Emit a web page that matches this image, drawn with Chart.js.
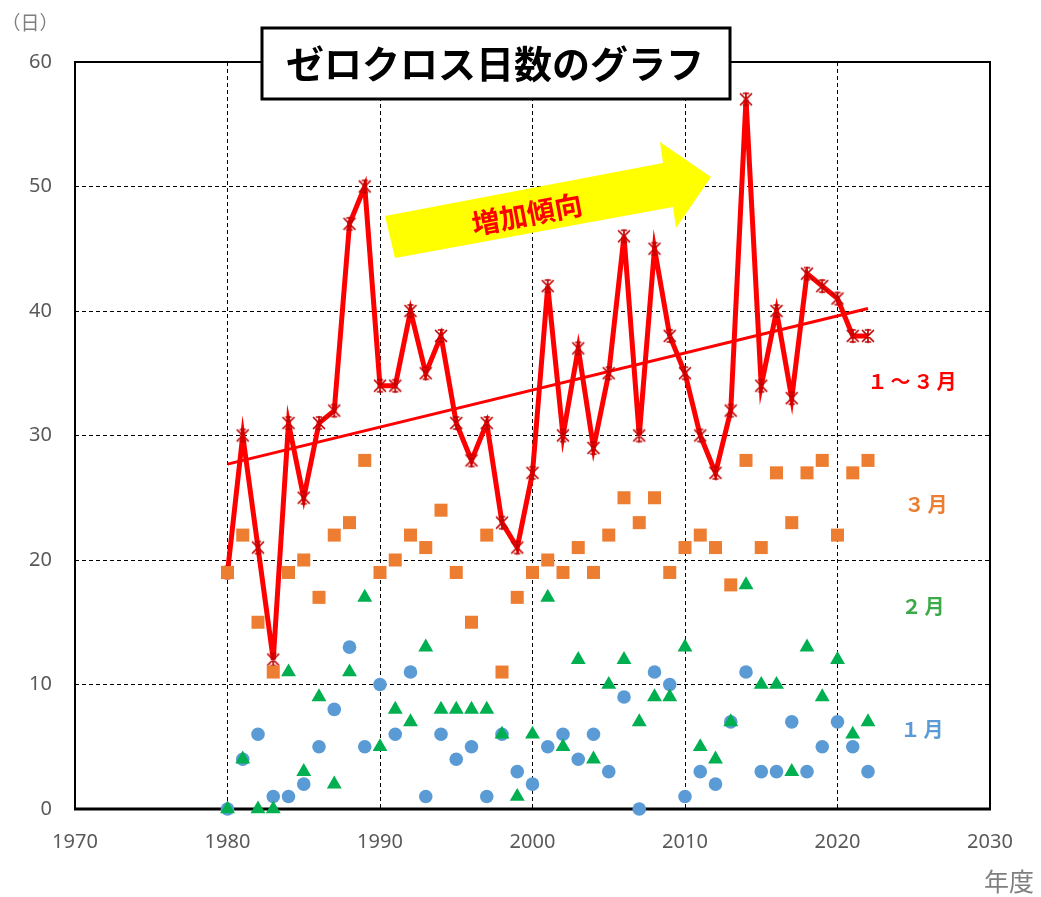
<!DOCTYPE html>
<html><head><meta charset="utf-8">
<script src="https://cdn.jsdelivr.net/npm/chart.js@4"></script>
<style>html,body{margin:0;padding:0;background:#fff}canvas{display:block}</style>
</head><body>
<canvas id="c" width="1041" height="897"></canvas>
<script>
const years = [1980,1981,1982,1983,1984,1985,1986,1987,1988,1989,1990,1991,1992,1993,1994,1995,1996,1997,1998,1999,2000,2001,2002,2003,2004,2005,2006,2007,2008,2009,2010,2011,2012,2013,2014,2015,2016,2017,2018,2019,2020,2021,2022];
const totalDays = [19,30,21,12,31,25,31,32,47,50,34,34,40,35,38,31,28,31,23,21,27,42,30,37,29,35,46,30,45,38,35,30,27,32,57,34,40,33,43,42,41,38,38];
const marchDays = [19,22,15,11,19,20,17,22,23,28,19,20,22,21,24,19,15,22,11,17,19,20,19,21,19,22,25,23,25,19,21,22,21,18,28,21,27,23,27,28,22,27,28];
const febDays   = [0,4,0,0,11,3,9,2,11,17,5,8,7,13,8,8,8,8,6,1,6,17,5,12,4,10,12,7,9,9,13,5,4,7,18,10,10,3,13,9,12,6,7];
const janDays   = [0,4,6,1,1,2,5,8,13,5,10,6,11,1,6,4,5,1,6,3,2,5,6,4,6,3,9,0,11,10,1,3,2,7,11,3,3,7,3,5,7,5,3];
const trendYears = [1980, 2022];
const trendValues = [27.7, 40.2];
const yearTicks = [1970,1980,1990,2000,2010,2020,2030];
const dayTicks = [0,10,20,30,40,50,60];
const seriesLabels = ['１～３月','３月','２月','１月'];
const chartTitle = 'ゼロクロス日数のグラフ';
const arrowText = '増加傾向';
const yUnit = '（日）';
const xUnit = '年度';

const JP = '"Noto Sans CJK JP", "Noto Sans", sans-serif';

function makeStar(){
  const c = document.createElement('canvas'); c.width = 16; c.height = 16;
  const g = c.getContext('2d');
  g.strokeStyle = '#C00000'; g.lineWidth = 1.7; g.lineCap = 'round';
  g.beginPath();
  g.moveTo(2.5,2.5); g.lineTo(13.5,13.5);
  g.moveTo(13.5,2.5); g.lineTo(2.5,13.5);
  g.moveTo(8,1.5); g.lineTo(8,14.5);
  g.moveTo(5.5,2); g.lineTo(10.5,2);
  g.moveTo(5.5,14); g.lineTo(10.5,14);
  g.stroke();
  return c;
}
const pts = arr => years.map((y,i)=>({x:y, y:arr[i]}));

const deco = {
  id: 'deco',
  beforeDatasetsDraw(chart){
    const {ctx, chartArea:a} = chart;
    ctx.save();
    ctx.setLineDash([]);
    ctx.strokeStyle = '#000';
    ctx.lineWidth = 2;
    ctx.strokeRect(a.left, a.top, a.right - a.left, a.bottom - a.top);
    ctx.lineWidth = 3;
    ctx.beginPath(); ctx.moveTo(a.left-1, a.bottom); ctx.lineTo(a.right+1, a.bottom); ctx.stroke();
    ctx.restore();
  },
  afterDraw(chart){
    const {ctx} = chart;
    ctx.save();
    ctx.setLineDash([]);
    // title box
    ctx.fillStyle = '#fff';
    ctx.fillRect(262, 28, 468, 71);
    ctx.strokeStyle = '#000'; ctx.lineWidth = 3;
    ctx.strokeRect(262, 28, 468, 71);
    ctx.fillStyle = '#000';
    ctx.font = 'bold 38px ' + JP;
    ctx.textAlign = 'center'; ctx.textBaseline = 'middle';
    ctx.fillText(chartTitle, 495, 64);
    // arrow
    ctx.fillStyle = '#FFFF00';
    ctx.beginPath();
    ctx.moveTo(385,216); ctx.lineTo(663,163); ctx.lineTo(660,142); ctx.lineTo(711,177);
    ctx.lineTo(676,228); ctx.lineTo(673,207); ctx.lineTo(395,258);
    ctx.closePath(); ctx.fill();
    ctx.save();
    ctx.translate(527, 214); ctx.rotate(-0.19);
    ctx.fillStyle = '#FF0000';
    ctx.font = 'bold 28px ' + JP;
    ctx.fillText(arrowText, 0, 0);
    ctx.restore();
    // series labels
    const lab = [[seriesLabels[0],'#FF0000',912,381],[seriesLabels[1],'#ED7D31',926,504],[seriesLabels[2],'#3DAA4A',923,606],[seriesLabels[3],'#5B9BD5',922,729]];
    ctx.font = 'bold 20px ' + JP;
    if ('letterSpacing' in ctx) ctx.letterSpacing = '3px';
    for (const [t,c,x,y] of lab){ ctx.fillStyle = c; ctx.fillText(t, x+1.5, y); }
    if ('letterSpacing' in ctx) ctx.letterSpacing = '0px';
    // units
    ctx.fillStyle = '#7F7F7F';
    ctx.font = '19px ' + JP;
    ctx.fillText(yUnit, 30, 23);
    ctx.font = '25px ' + JP;
    ctx.fillText(xUnit, 1009, 881);
    ctx.restore();
  }
};

const gridColor = (edges) => (c) => (edges.includes(c.tick && c.tick.value) ? 'rgba(0,0,0,0)' : '#000');

new Chart(document.getElementById('c'), {
  type: 'scatter',
  data: {
    datasets: [
      { label: seriesLabels[1], data: pts(marchDays), pointStyle: 'rect', pointRadius: 9.2, pointHoverRadius: 9.2,
        backgroundColor: '#ED7D31', borderColor: '#ED7D31', borderWidth: 0, order: 0 },
      { label: seriesLabels[2], data: pts(febDays), pointStyle: 'triangle', pointRadius: 8.6, pointHoverRadius: 8.6,
        backgroundColor: '#00B050', borderColor: '#00B050', borderWidth: 0, order: 1 },
      { label: seriesLabels[3], data: pts(janDays), pointStyle: 'circle', pointRadius: 6.8, pointHoverRadius: 6.8,
        backgroundColor: '#5B9BD5', borderColor: '#5B9BD5', borderWidth: 0, order: 2 },
      { label: seriesLabels[0], data: pts(totalDays), showLine: true, borderColor: '#FF0000', borderWidth: 5,
        tension: 0, pointStyle: makeStar(), pointRadius: 8, order: 3 },
      { label: 'trend', data: trendYears.map((y,i)=>({x:y, y:trendValues[i]})), showLine: true, borderColor: '#FF0000',
        borderWidth: 3, pointRadius: 0, pointHoverRadius: 0, order: 4 }
    ]
  },
  options: {
    responsive: false, animation: false, events: [],
    clip: false,
    layout: { padding: { top: 62, right: 51, left: 0, bottom: 0 } },
    plugins: { legend: { display: false }, tooltip: { enabled: false } },
    scales: {
      x: {
        type: 'linear', min: yearTicks[0], max: yearTicks[yearTicks.length-1],
        afterBuildTicks: s => { s.ticks = yearTicks.map(v => ({value: v})); },
        afterFit: s => { s.height = 88; },
        border: { display: false, dash: [4,3] },
        grid: { color: gridColor([1970, 2030]), lineWidth: 1, drawTicks: false },
        ticks: { padding: 21, color: '#595959', font: { family: '"Noto Sans", sans-serif', size: 20 }, callback: v => String(v), maxRotation: 0 }
      },
      y: {
        min: dayTicks[0], max: dayTicks[dayTicks.length-1],
        afterBuildTicks: s => { s.ticks = dayTicks.map(v => ({value: v})); },
        afterFit: s => { s.width = 75; },
        border: { display: false, dash: [4,3] },
        grid: { color: gridColor([0, 60]), lineWidth: 1, drawTicks: false },
        ticks: { padding: 23, color: '#595959', font: { family: '"Noto Sans", sans-serif', size: 20 }, callback: v => String(v) }
      }
    }
  },
  plugins: [deco]
});
</script>
</body></html>
